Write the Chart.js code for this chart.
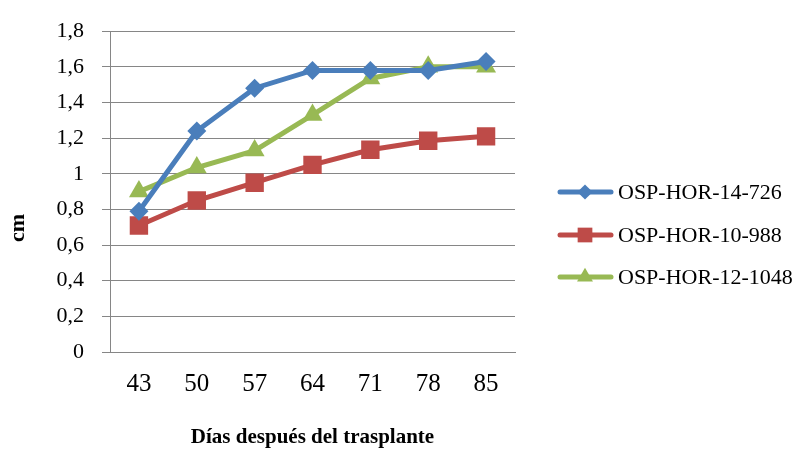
<!DOCTYPE html>
<html>
<head>
<meta charset="utf-8">
<script src="https://cdn.jsdelivr.net/npm/chart.js@4"></script>
<style>
  html, body { margin: 0; padding: 0; background: #fff; }
  #wrap { width: 810px; height: 453px; }
</style>
</head>
<body>
<div id="wrap"><canvas id="chart" width="810" height="453"></canvas></div>
<script>
const days = ['43', '50', '57', '64', '71', '78', '85'];
const seriesNames = ['OSP-HOR-14-726', 'OSP-HOR-10-988', 'OSP-HOR-12-1048'];
const osp14 = [0.79, 1.24, 1.48, 1.58, 1.58, 1.58, 1.63];
const osp10 = [0.71, 0.85, 0.95, 1.05, 1.135, 1.185, 1.21];
const osp12 = [0.90, 1.035, 1.13, 1.33, 1.535, 1.60, 1.60];
const yTickLabels = ['0', '0,2', '0,4', '0,6', '0,8', '1', '1,2', '1,4', '1,6', '1,8'];

const gridGray = '#868686';
const serif = '"Liberation Serif", "Times New Roman", serif';

// legend with a line + marker, like the spreadsheet one
const sideLegend = {
    id: 'sideLegend',
    afterDraw(chart) {
        const ctx = chart.ctx;
        const rows = [192, 235, 277];
        chart.data.datasets.forEach((ds, i) => {
            const y = rows[i];
            ctx.save();
            ctx.strokeStyle = ds.borderColor;
            ctx.lineWidth = 5;
            ctx.lineCap = 'round';
            ctx.beginPath();
            ctx.moveTo(560, y);
            ctx.lineTo(611, y);
            ctx.stroke();
            ctx.fillStyle = ds.borderColor;
            Chart.helpers.drawPoint(ctx, {
                pointStyle: ds.pointStyle,
                radius: ds.pointRadius * 0.8,
                borderWidth: 0
            }, 585, y);
            ctx.fillStyle = '#000';
            ctx.font = '22px ' + serif;
            ctx.textBaseline = 'middle';
            ctx.fillText(ds.label, 618, y + 1);
            ctx.restore();
        });

        // y axis title
        ctx.save();
        ctx.translate(18, 228);
        ctx.rotate(-Math.PI / 2);
        ctx.font = 'bold 22px ' + serif;
        ctx.fillStyle = '#000';
        ctx.textAlign = 'center';
        ctx.textBaseline = 'middle';
        ctx.fillText('cm', 0, 0);
        ctx.restore();
    }
};

const ctx = document.getElementById('chart').getContext('2d');

new Chart(ctx, {
    type: 'line',
    data: {
        labels: days,
        datasets: [{
            label: seriesNames[0],
            data: osp14,
            borderColor: '#4A7EBB',
            backgroundColor: '#4A7EBB',
            pointStyle: 'rectRot',
            pointRadius: 9.5
        }, {
            label: seriesNames[1],
            data: osp10,
            borderColor: '#BE4B48',
            backgroundColor: '#BE4B48',
            pointStyle: 'rect',
            pointRadius: 13
        }, {
            label: seriesNames[2],
            data: osp12,
            borderColor: '#98B954',
            backgroundColor: '#98B954',
            pointStyle: 'triangle',
            pointRadius: 11.5
        }]
    },
    options: {
        responsive: false,
        animation: false,
        devicePixelRatio: 1,
        layout: {
            padding: {top: 27, right: 295, left: 0, bottom: 0}
        },
        elements: {
            line: {borderWidth: 5, tension: 0},
            point: {borderWidth: 0}
        },
        plugins: {
            legend: {display: false},
            tooltip: {enabled: false}
        },
        scales: {
            x: {
                offset: true,
                afterFit: (scale) => { scale.height = 101; },
                grid: {display: false, drawTicks: false},
                border: {display: true, color: gridGray, width: 1},
                ticks: {
                    padding: 17,
                    color: '#000',
                    font: {family: serif, size: 25}
                },
                title: {
                    display: true,
                    text: 'Días después del trasplante',
                    color: '#000',
                    font: {family: serif, size: 21, weight: 'bold'},
                    padding: {top: 0, bottom: 3}
                }
            },
            y: {
                min: 0,
                max: 1.8,
                afterFit: (scale) => { scale.width = 110; },
                grid: {color: gridGray, lineWidth: 1, tickLength: 8},
                border: {display: true, color: gridGray, width: 1},
                ticks: {
                    stepSize: 0.2,
                    padding: 18,
                    color: '#000',
                    font: {family: serif, size: 22},
                    callback: (value, index) => yTickLabels[index]
                }
            }
        }
    },
    plugins: [sideLegend]
});
</script>
</body>
</html>
